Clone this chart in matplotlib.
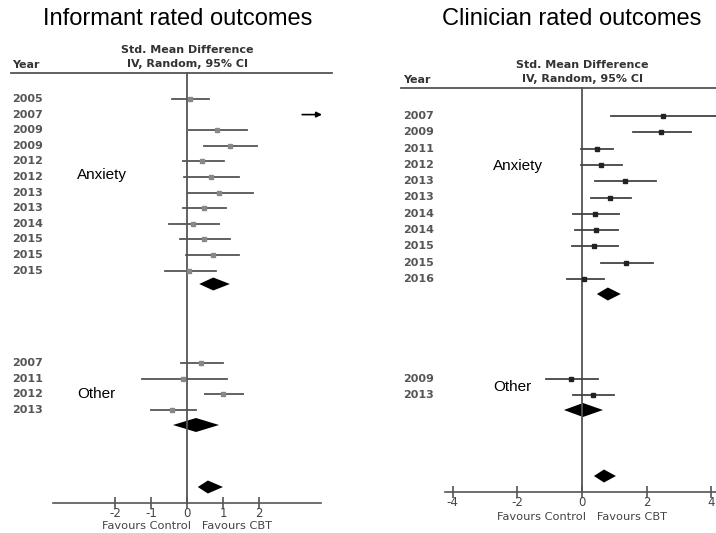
import numpy as np
import matplotlib
matplotlib.use("Agg")
import matplotlib.pyplot as plt

# ---- Informant rated outcomes ----
inf_anx_years = ['2005', '2007', '2009', '2009', '2012', '2012', '2013', '2013', '2014', '2015', '2015', '2015']
inf_anx_est = [0.08, np.nan, 0.83, 1.19, 0.42, 0.66, 0.90, 0.47, 0.18, 0.47, 0.71, 0.06]
inf_anx_lo = [-0.42, 3.2, 0.06, 0.47, -0.11, -0.09, 0.02, -0.11, -0.49, -0.20, -0.03, -0.60]
inf_anx_hi = [0.61, 3.75, 1.67, 1.94, 1.03, 1.45, 1.83, 1.09, 0.90, 1.19, 1.45, 0.80]
inf_oth_years = ['2007', '2011', '2012', '2013']
inf_oth_est = [0.39, -0.12, 1.00, -0.42]
inf_oth_lo = [-0.17, -1.25, 0.50, -1.00]
inf_oth_hi = [1.00, 1.12, 1.55, 0.25]
inf_pooled = {'anx': (0.73, 0.34, 1.19), 'oth': (0.25, -0.39, 0.89), 'all': (0.58, 0.30, 1.00)}
inf_ticks = [-2, -1, 0, 1, 2]

# ---- Clinician rated outcomes ----
cli_anx_years = ['2007', '2009', '2011', '2012', '2013', '2013', '2014', '2014', '2015', '2015', '2016']
cli_anx_est = [2.50, 2.45, 0.46, 0.59, 1.33, 0.87, 0.40, 0.43, 0.37, 1.36, 0.06]
cli_anx_lo = [0.90, 1.58, -0.03, -0.03, 0.40, 0.28, -0.28, -0.22, -0.30, 0.59, -0.46]
cli_anx_hi = [4.60, 3.37, 0.96, 1.24, 2.29, 1.52, 1.14, 1.11, 1.11, 2.20, 0.68]
cli_oth_years = ['2009', '2013']
cli_oth_est = [-0.34, 0.34]
cli_oth_lo = [-1.11, -0.28]
cli_oth_hi = [0.50, 0.99]
cli_pooled = {'anx': (0.80, 0.46, 1.20), 'oth': (0.03, -0.56, 0.65), 'all': (0.68, 0.37, 1.05)}
cli_ticks = [-4, -2, 0, 2, 4]

W, H = 716, 533
fig = plt.figure(figsize=(W / 100, H / 100), dpi=100)

LBL = dict(family='DejaVu Sans', fontweight='bold', color='#555555', fontsize=8)
HDR = dict(LBL, color='#333333')


def diamond(ax, est, lo, hi, y, h):
    ax.fill([lo, est, hi, est], [y, y - h / 2, y, y + h / 2], color='black', lw=0, clip_on=False)


def forest(ax, cfg):
    # pixel layout of this panel: x in effect size, y in pixels from the top
    zero_px, unit = cfg['zero'], cfg['unit']
    ax.set_xlim((0 - zero_px) / unit, (cfg['width'] - zero_px) / unit)
    ax.set_ylim(H, 0)
    for s in ['top', 'left', 'right']:
        ax.spines[s].set_visible(False)
    ax.set_yticks([])
    ax.patch.set_alpha(0)

    # bottom axis
    ax.spines['bottom'].set_position(('data', cfg['axis_y']))
    ax.spines['bottom'].set_bounds(*cfg['axis_bounds'])
    ax.spines['bottom'].set_color('#555555')
    ax.spines['bottom'].set_linewidth(1.2)
    ax.set_xticks(cfg['ticks'])
    ax.set_xticklabels([str(t) for t in cfg['ticks']])
    ax.tick_params(axis='x', direction='inout', length=8, width=1.2, color='#555555',
                   pad=-1, labelsize=8.5, labelcolor='#444444')

    to_v = lambda px: (px - zero_px) / unit

    # title and header
    ax.text(to_v(cfg['title_x']), 19, cfg['title'], fontsize=17, family='Liberation Sans',
            ha='center', va='center')
    hy = cfg['header_y']
    ax.plot([to_v(cfg['header_x0']), to_v(cfg['header_x1'])], [hy, hy],
            color='#555555', lw=1.3, clip_on=False)
    ax.text(to_v(cfg['year_x']), hy - 8, 'Year', ha='left', va='center', **HDR)
    ax.text(0, hy - 23, 'Std. Mean Difference', ha='center', va='center', **HDR)
    ax.text(0, hy - 9, 'IV, Random, 95% CI', ha='center', va='center', **HDR)

    # zero line
    ax.plot([0, 0], [hy, cfg['axis_y']], color='#555555', lw=1.3)

    def rows(years, est, lo, hi, y0, step):
        ys = [y0 + i * step for i in range(len(years))]
        for yr, e, l, h, y in zip(years, est, lo, hi, ys):
            ax.text(to_v(cfg['year_x']), y, yr, ha='left', va='center', **LBL)
            if np.isnan(e):
                # estimate off the scale: arrow only
                ax.annotate('', xy=(h, y), xytext=(l, y),
                            arrowprops=dict(arrowstyle='-|>', color='black', lw=1.2,
                                            mutation_scale=8, shrinkA=0, shrinkB=0))
                continue
            ax.plot([l, h], [y, y], color=cfg['line_c'], lw=1.3)
            ax.plot([e], [y], marker='s', ms=3, color=cfg['mark_c'], mec=cfg['mark_c'])
        return ys

    rows(*cfg['anx'], cfg['anx_y0'], cfg['step'])
    rows(*cfg['oth'], cfg['oth_y0'], cfg['step'])
    p = cfg['pooled']
    diamond(ax, *p['anx'], cfg['dia_y'][0], 13)
    diamond(ax, *p['oth'], cfg['dia_y'][1], 14)
    diamond(ax, *p['all'], cfg['dia_y'][2], 13)

    ax.text(to_v(cfg['group_x']), cfg['anx_lbl_y'], 'Anxiety', fontsize=11,
            family='Liberation Sans', ha='left', va='center')
    ax.text(to_v(cfg['group_x']), cfg['oth_lbl_y'], 'Other', fontsize=11,
            family='Liberation Sans', ha='left', va='center')
    ax.text(0, cfg['fav_y'], 'Favours Control   Favours CBT', ha='center', va='center',
            family='DejaVu Sans', color='#444444', fontsize=8.2)


left_cfg = dict(
    width=360, zero=187, unit=36.0, axis_y=503, axis_bounds=(-3.72, 3.72),
    ticks=inf_ticks, title='Informant rated outcomes', title_x=178,
    header_y=73, header_x0=11, header_x1=332, year_x=12, line_c='#555555', mark_c='#888888',
    anx=(inf_anx_years, inf_anx_est, inf_anx_lo, inf_anx_hi),
    oth=(inf_oth_years, inf_oth_est, inf_oth_lo, inf_oth_hi),
    anx_y0=99, oth_y0=363, step=15.6, pooled=inf_pooled, dia_y=(284, 425, 487),
    group_x=77, anx_lbl_y=175, oth_lbl_y=394, fav_y=526,
)
right_cfg = dict(
    width=356, zero=222, unit=32.3, axis_y=492, axis_bounds=(-4.24, 4.2),
    ticks=cli_ticks, title='Clinician rated outcomes', title_x=212,
    header_y=88, header_x0=41, header_x1=360, year_x=43, line_c='#444444', mark_c='#222222',
    anx=(cli_anx_years, cli_anx_est, cli_anx_lo, cli_anx_hi),
    oth=(cli_oth_years, cli_oth_est, cli_oth_lo, cli_oth_hi),
    anx_y0=116, oth_y0=379, step=16.3, pooled=cli_pooled, dia_y=(294, 410, 476),
    group_x=133, anx_lbl_y=166, oth_lbl_y=387, fav_y=517,
)

axL = fig.add_axes([0, 0, 360 / W, 1])
forest(axL, left_cfg)
axR = fig.add_axes([360 / W, 0, 356 / W, 1])
forest(axR, right_cfg)

fig.savefig('out.png', dpi=100)
